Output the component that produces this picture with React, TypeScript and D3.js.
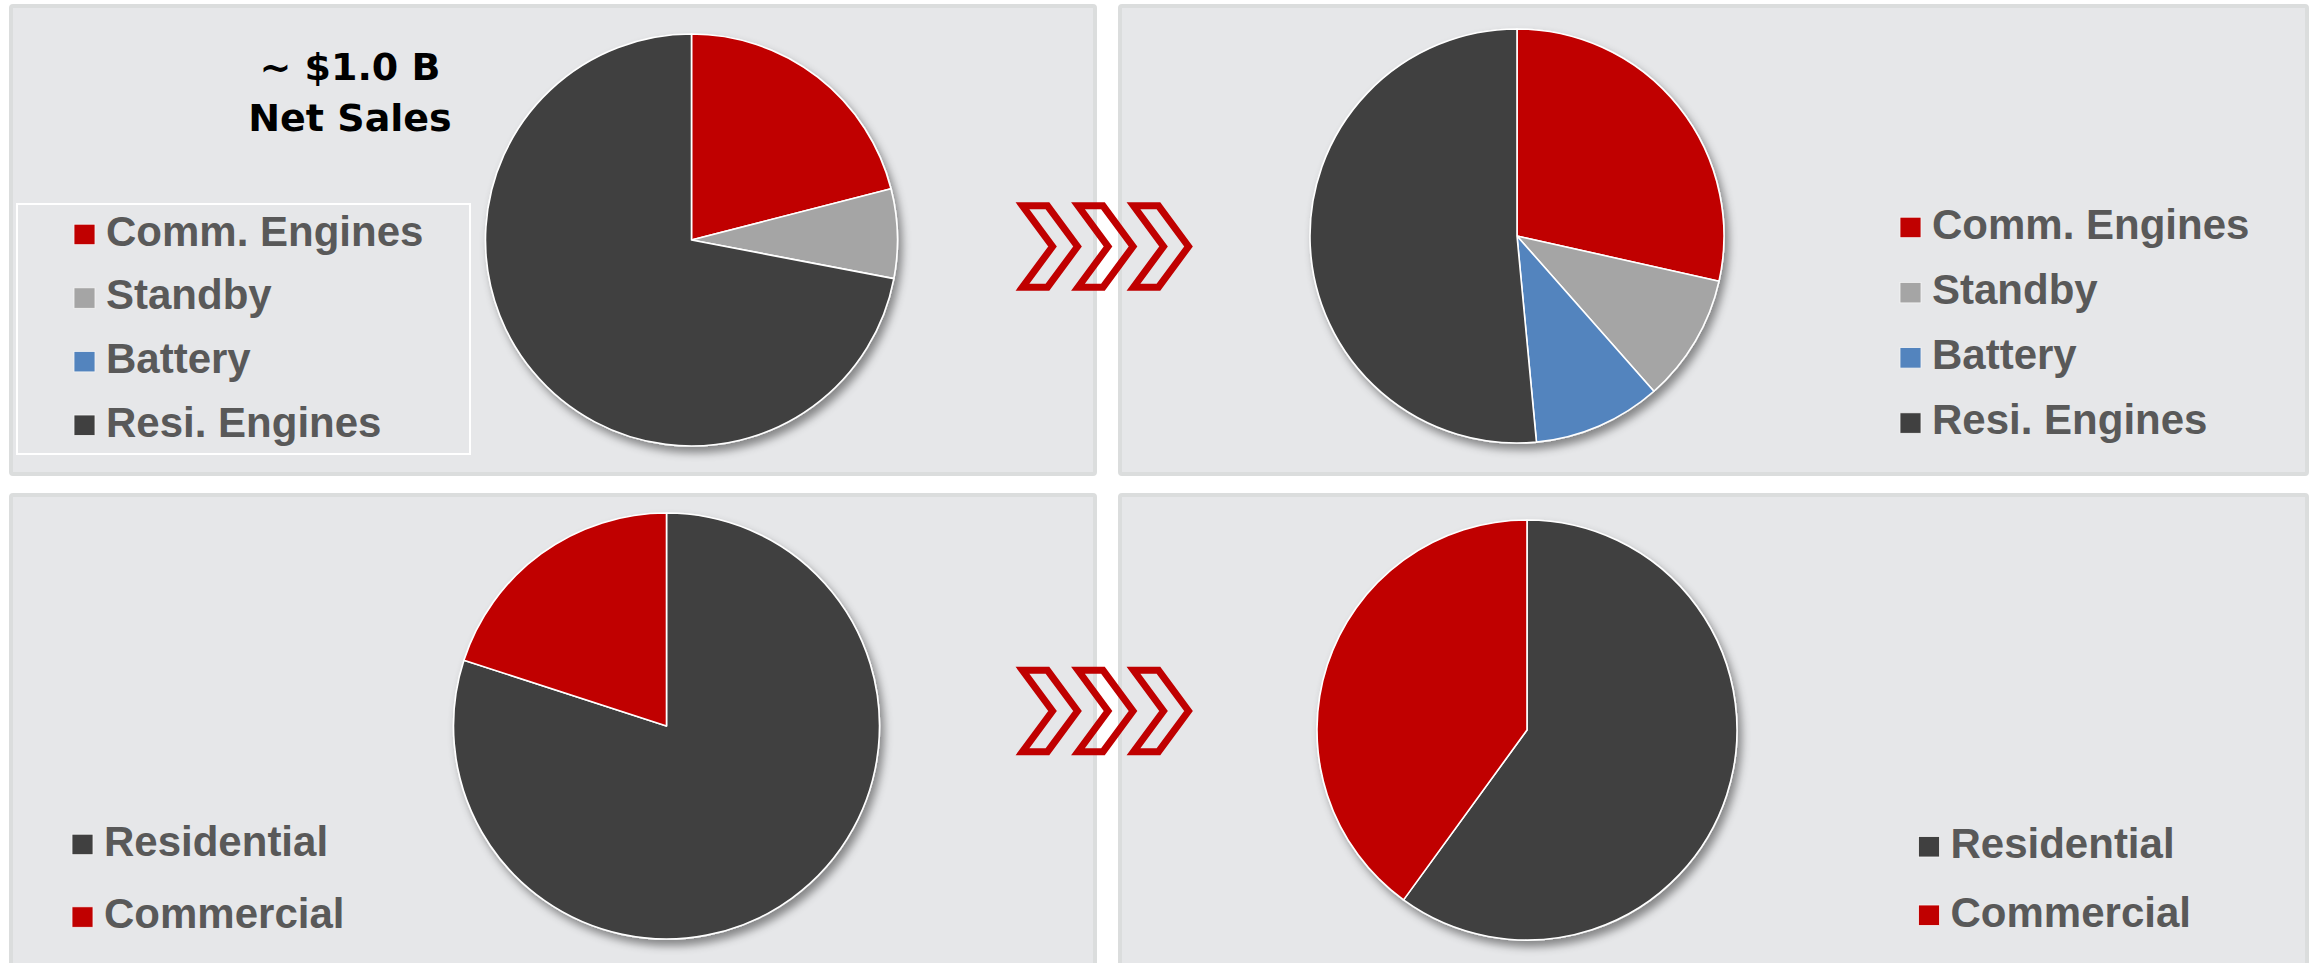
import React from "react";
import * as d3 from "d3";

// ---- data ----
const segmentCategories = ["Comm. Engines", "Standby", "Battery", "Resi. Engines"];
const segmentBefore = [21, 7, 0, 72];
const segmentAfter = [28.5, 10, 10, 51.5];
const segmentColors = ["#c00000", "#a5a5a5", "#5384be", "#404040"];

const marketCategories = ["Residential", "Commercial"];
const marketBefore = [80, 20];
const marketAfter = [60, 40];
const marketColors = ["#404040", "#c00000"];

const titleLines = ["~ $1.0 B", "Net Sales"];

const W = 2315;
const H = 963;
const PANEL_FILL = "#e6e7e9";
const PANEL_STROKE = "#dbdddd";
const LEGEND_TEXT = "#595959";
const RED = "#c00000";

function Pie({ cx, cy, r, values, colors }: { cx: number; cy: number; r: number; values: number[]; colors: string[] }) {
  const pie = d3.pie<number>().sort(null).value((d) => d).startAngle(0).endAngle(2 * Math.PI);
  const arc = d3.arc<d3.PieArcDatum<number>>().innerRadius(0).outerRadius(r);
  const arcs = pie(values);
  return (
    <g transform={`translate(${cx},${cy})`} filter="url(#pieShadow)">
      {arcs
        .filter((a) => a.value > 0)
        .map((a) => (
          <path key={a.index} d={arc(a) || ""} fill={colors[a.index]} stroke="#ffffff" strokeWidth={1.6} strokeLinejoin="round" />
        ))}
    </g>
  );
}

function Legend({ x, y, spacing, items, colors }: { x: number; y: number; spacing: number; items: string[]; colors: string[] }) {
  return (
    <g>
      {items.map((t, i) => (
        <g key={t} transform={`translate(${x},${y + i * spacing})`}>
          <rect x={0} y={-21.5} width={21} height={20.5} fill={colors[i]} stroke="#f4f4f4" strokeWidth={0.8} />
          <text x={32} y={0} fontFamily="'Liberation Sans', Arial, Helvetica, sans-serif" fontWeight="bold" fontSize={42} fill={LEGEND_TEXT}>
            {t}
          </text>
        </g>
      ))}
    </g>
  );
}

function Chevrons({ x0, cy, step }: { x0: number; cy: number; step: number }) {
  const a = 25;
  const n = 30;
  const h = 40.7;
  const offsets = d3.range(3).map((i) => x0 + i * step);
  const line = d3.line();
  return (
    <g>
      {offsets.map((x, i) => {
        const pts: [number, number][] = [
          [x, cy - h],
          [x + a, cy - h],
          [x + a + n, cy],
          [x + a, cy + h],
          [x, cy + h],
          [x + n, cy],
        ];
        return <path key={i} d={(line(pts) || "") + "Z"} fill="none" stroke={RED} strokeWidth={7} strokeLinejoin="miter" strokeMiterlimit={10} />;
      })}
    </g>
  );
}

export default function App() {
  const panels = [
    { x: 9, y: 4, w: 1088, h: 472 },
    { x: 1118, y: 4, w: 1191, h: 472 },
    { x: 9, y: 493, w: 1088, h: 480 },
    { x: 1118, y: 493, w: 1191, h: 480 },
  ];
  return (
    <svg width={W} height={H} viewBox={`0 0 ${W} ${H}`} style={{ position: "absolute", left: 0, top: 0, background: "#ffffff" }}>
      <defs>
        <filter id="pieShadow" x="-20%" y="-20%" width="140%" height="140%">
          <feDropShadow dx={4} dy={6} stdDeviation={4.5} floodColor="#000000" floodOpacity={0.42} />
        </filter>
      </defs>
      <rect x={0} y={0} width={W} height={H} fill="#ffffff" />
      {panels.map((p, i) => (
        <rect key={i} x={p.x + 2} y={p.y + 2} width={p.w - 4} height={p.h - 4} rx={2} fill={PANEL_FILL} stroke={PANEL_STROKE} strokeWidth={4} />
      ))}

      {/* Top-left */}
      <Pie cx={691.5} cy={240} r={206} values={segmentBefore} colors={segmentColors} />
      <rect x={17} y={204} width={453} height={250} fill="none" stroke="#ffffff" strokeWidth={2} />
      <Legend x={74} y={245.7} spacing={63.6} items={segmentCategories} colors={segmentColors} />
      <g fontFamily="'DejaVu Sans', Verdana, sans-serif" fontWeight="bold" fontSize={38} fill="#000000" textAnchor="middle">
        {titleLines.map((t, i) => (
          <text key={t} x={350} y={80 + i * 50.7}>
            {t}
          </text>
        ))}
      </g>

      {/* Top-right */}
      <Pie cx={1517} cy={236} r={207} values={segmentAfter} colors={segmentColors} />
      <Legend x={1900} y={238.7} spacing={65.2} items={segmentCategories} colors={segmentColors} />

      {/* Bottom-left */}
      <Pie cx={666.5} cy={726} r={213} values={marketBefore} colors={marketColors} />
      <Legend x={72} y={855.7} spacing={72.6} items={marketCategories} colors={marketColors} />

      {/* Bottom-right */}
      <Pie cx={1527} cy={730} r={210} values={marketAfter} colors={marketColors} />
      <Legend x={1918.5} y={858} spacing={68.5} items={marketCategories} colors={marketColors} />

      <Chevrons x0={1022.5} cy={246.5} step={55.5} />
      <Chevrons x0={1022.5} cy={711} step={55.5} />
    </svg>
  );
}
